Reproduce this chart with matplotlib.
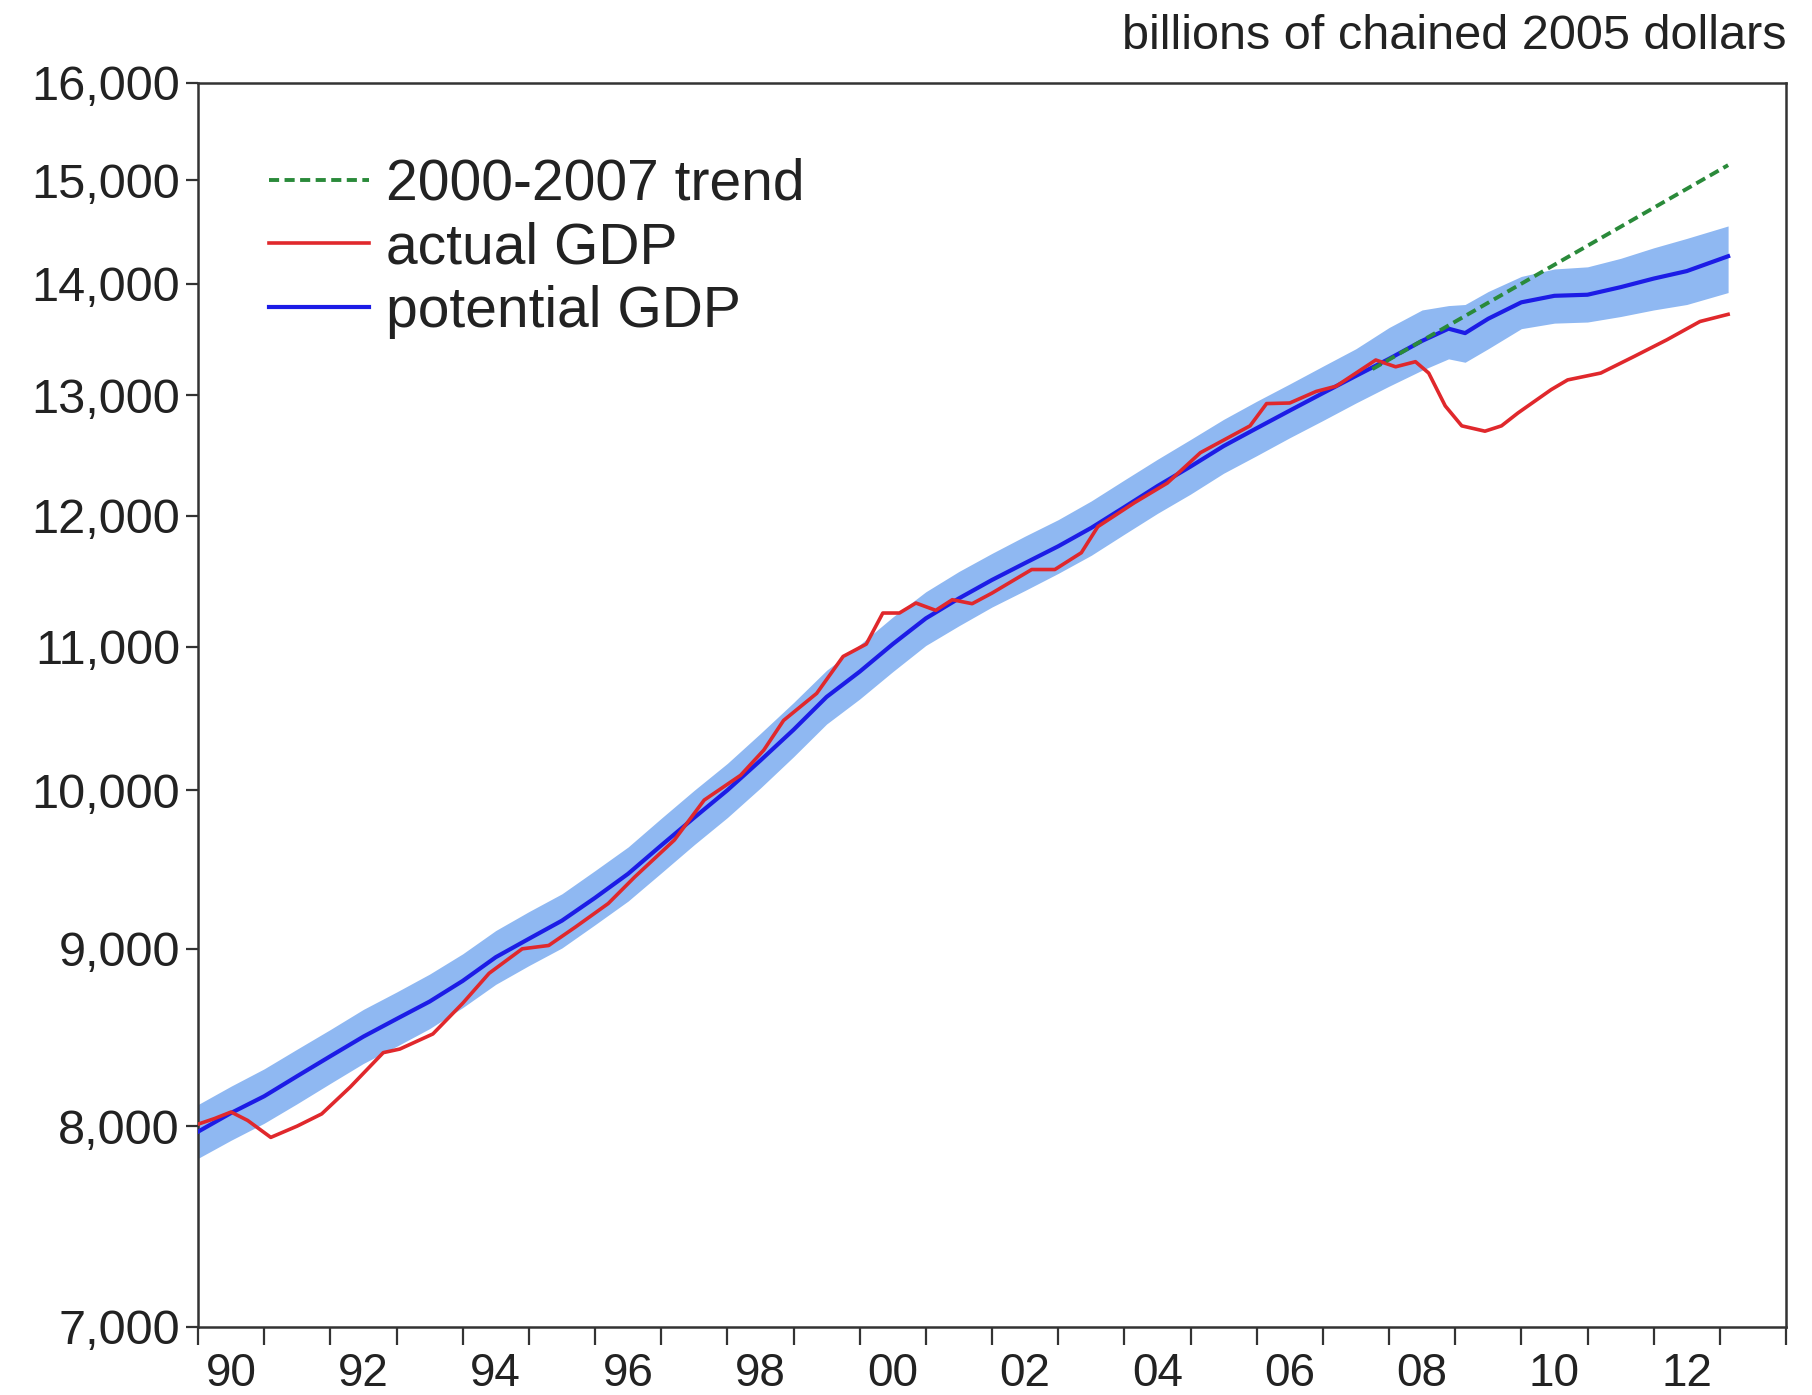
import matplotlib
matplotlib.use("Agg")
import matplotlib.pyplot as plt
from matplotlib.ticker import NullLocator, FixedLocator, FuncFormatter

plt.rcParams['font.family'] = ['Liberation Sans', 'DejaVu Sans']

# potential GDP (CBO) and its shaded band, billions of chained 2005 dollars
pot_x = [1990.0, 1990.5, 1991.0, 1991.5, 1992.0, 1992.5, 1993.0, 1993.5, 1994.0, 1994.5,
         1995.0, 1995.5, 1996.0, 1996.5, 1997.0, 1997.5, 1998.0, 1998.5, 1999.0, 1999.5,
         2000.0, 2000.5, 2001.0, 2001.5, 2002.0, 2002.5, 2003.0, 2003.5, 2004.0, 2004.5,
         2005.0, 2005.5, 2006.0, 2006.5, 2007.0, 2007.5, 2008.0, 2008.5, 2008.9, 2009.15,
         2009.5, 2010.0, 2010.5, 2011.0, 2011.5, 2012.0, 2012.5, 2013.125]
potential = [7970, 8070, 8160, 8270, 8380, 8490, 8590, 8690, 8810, 8950,
             9060, 9170, 9310, 9460, 9640, 9820, 10000, 10200, 10410, 10640,
             10820, 11020, 11210, 11360, 11500, 11630, 11760, 11905, 12070, 12240,
             12400, 12570, 12720, 12870, 13020, 13170, 13320, 13480, 13590, 13550,
             13680, 13830, 13890, 13900, 13970, 14050, 14120, 14260]
band_hi = [8115, 8215, 8310, 8420, 8530, 8645, 8745, 8850, 8970, 9110,
           9225, 9335, 9480, 9630, 9815, 10000, 10180, 10385, 10600, 10830,
           11015, 11220, 11410, 11565, 11705, 11840, 11970, 12120, 12290, 12460,
           12625, 12795, 12950, 13100, 13255, 13410, 13600, 13760, 13800, 13810,
           13930, 14070, 14140, 14160, 14240, 14340, 14430, 14550]
band_lo = [7830, 7925, 8015, 8120, 8230, 8340, 8435, 8535, 8655, 8790,
           8900, 9005, 9145, 9290, 9465, 9645, 9820, 10015, 10225, 10450,
           10625, 10820, 11010, 11155, 11295, 11420, 11550, 11690, 11855, 12020,
           12175, 12345, 12490, 12640, 12785, 12935, 13080, 13220, 13320, 13290,
           13410, 13590, 13640, 13650, 13700, 13760, 13810, 13920]

# actual real GDP
act_x = [1990.0, 1990.25, 1990.5, 1990.75, 1991.1, 1991.5, 1991.87, 1992.3, 1992.8, 1993.05,
         1993.55, 1994.0, 1994.4, 1994.9, 1995.3, 1995.7, 1996.2, 1996.6, 1997.2, 1997.65,
         1998.2, 1998.55, 1998.85, 1999.35, 1999.75, 2000.1, 2000.35, 2000.6, 2000.85, 2001.15,
         2001.4, 2001.7, 2002.0, 2002.6, 2002.95, 2003.35, 2003.6, 2004.15, 2004.65, 2005.15,
         2005.9, 2006.15, 2006.5, 2006.9, 2007.2, 2007.8, 2008.1, 2008.4, 2008.6, 2008.85,
         2009.1, 2009.45, 2009.7, 2009.95, 2010.45, 2010.7, 2011.2, 2011.7, 2012.2, 2012.7,
         2013.125]
actual = [8010, 8040, 8075, 8030, 7940, 8000, 8065, 8210, 8400, 8420,
          8505, 8680, 8855, 9000, 9020, 9130, 9275, 9440, 9675, 9935,
          10100, 10270, 10475, 10665, 10930, 11020, 11250, 11250, 11325, 11270,
          11350, 11320, 11400, 11580, 11580, 11710, 11915, 12105, 12265, 12515,
          12740, 12930, 12935, 13035, 13080, 13310, 13250, 13295, 13195, 12910,
          12740, 12695, 12740, 12850, 13050, 13135, 13195, 13340, 13490, 13655,
          13720]

# 2000-2007 trend extended
trend_x = [2007.75, 2013.125]
trend = [13230, 15150]

yticks = [7000, 8000, 9000, 10000, 11000, 12000, 13000, 14000, 15000, 16000]
year_labels = ['90', '92', '94', '96', '98', '00', '02', '04', '06', '08', '10', '12']

fig = plt.figure(figsize=(18.12, 13.95), dpi=100)
ax = fig.add_axes([198 / 1812, 1 - 1327 / 1395, (1786 - 198) / 1812, (1327 - 83) / 1395])

ax.fill_between(pot_x, band_lo, band_hi, color='#8fb8f2', lw=0, zorder=1)
l_pot, = ax.plot(pot_x, potential, color='#1c1ce6', lw=3.0, zorder=3, label='potential GDP')
l_act, = ax.plot(act_x, actual, color='#e0282c', lw=2.6, zorder=4, label='actual GDP')
l_tr, = ax.plot(trend_x, trend, color='#2a8a3a', lw=2.8, ls=(0, (2.6, 1.4)), zorder=5,
                label='2000-2007 trend')

ax.set_yscale('log')
ax.set_ylim(7000, 16000)
ax.yaxis.set_major_locator(FixedLocator(yticks))
ax.yaxis.set_minor_locator(NullLocator())
ax.yaxis.set_major_formatter(FuncFormatter(lambda v, p: f'{int(v):,}'))

ax.set_xlim(1990, 2014)
ax.set_xticks(range(1990, 2015))
ax.set_xticklabels([])
ax.set_xticks([y + 0.5 for y in range(1990, 2013, 2)], minor=True)
ax.set_xticklabels(year_labels, minor=True)
ax.tick_params(axis='x', which='major', direction='out', length=13, width=1.6, color='#333333')
ax.tick_params(axis='x', which='minor', length=0, pad=18, labelsize=33, labelcolor='#222222')
ax.tick_params(axis='y', direction='out', length=9, width=1.6, color='#333333',
               labelsize=35, labelcolor='#222222', pad=4)

for s in ax.spines.values():
    s.set_linewidth(1.8)
    s.set_color('#333333')

leg = ax.legend(handles=[l_tr, l_act, l_pot], loc='upper left', bbox_to_anchor=(0.045, 0.94),
                frameon=False, fontsize=41, handlelength=1.75, handletextpad=0.3,
                labelspacing=0.17, borderpad=0, borderaxespad=0)
for t in leg.get_texts():
    t.set_color('#222222')

fig.text(1786 / 1812, 1 - 49 / 1395, 'billions of chained 2005 dollars', ha='right',
         va='baseline', fontsize=35, color='#222222')

fig.savefig('out.png', dpi=100)
